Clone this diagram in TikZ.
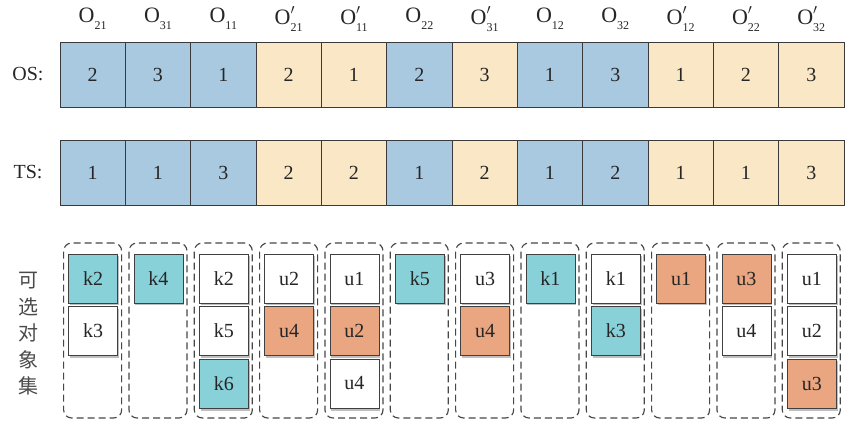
\documentclass[tikz,border=0pt]{standalone}
\usepackage{fontspec}
\setmainfont{Liberation Serif}
\newfontfamily\cjk{Noto Sans CJK SC}
\usetikzlibrary{shadows}
\definecolor{cellblue}{HTML}{A9C9E0}
\definecolor{cellyel}{HTML}{F9E7C5}
\definecolor{boxteal}{HTML}{88D1D9}
\definecolor{boxorg}{HTML}{E9A680}
\definecolor{boxwhite}{HTML}{FFFFFF}
\definecolor{edge}{HTML}{3A3A3A}
\definecolor{cjkgray}{HTML}{4A4A4A}
% operation labels: O with subscript, optionally primed
\newcommand{\osub}[1]{O\raisebox{-0.32em}{\fontsize{12}{12}\selectfont #1}}
\newcommand{\oprm}[1]{O\rlap{\raisebox{0.42em}{\fontsize{15}{15}\selectfont$\prime$}}\raisebox{-0.32em}{\fontsize{12}{12}\selectfont #1}}
\begin{document}
\begin{tikzpicture}[x=1pt,y=-1pt,
  cell/.style={draw=edge, line width=0.9pt, minimum width=65.33pt, minimum height=65pt,
    inner sep=0pt, font=\fontsize{20}{20}\selectfont, text=black!85},
  rowlab/.style={font=\fontsize{20}{20}\selectfont, text=black!85},
  oplab/.style={font=\fontsize{22}{22}\selectfont, text=black!85},
  grp/.style={draw=black!72, dash pattern=on 7pt off 4pt, line width=1.15pt,
    rounded corners=8pt, minimum width=58pt, minimum height=175pt, inner sep=0pt},
  cand/.style={draw=black!75, line width=0.9pt, minimum width=49pt, minimum height=49pt,
    inner sep=0pt, font=\fontsize{20}{20}\selectfont, text=black!85,
    drop shadow={shadow xshift=1.5pt, shadow yshift=-2.5pt, opacity=0.25, fill=black}},
]
\useasboundingbox (0,0) rectangle (847,422);

% operation sequence row and labels
\foreach \i/\c/\v/\lab in {1/cellblue/2/\osub{21}, 2/cellblue/3/\osub{31}, 3/cellblue/1/\osub{11},
    4/cellyel/2/\oprm{21}, 5/cellyel/1/\oprm{11}, 6/cellblue/2/\osub{22}, 7/cellyel/3/\oprm{31},
    8/cellblue/1/\osub{12}, 9/cellblue/3/\osub{32}, 10/cellyel/1/\oprm{12}, 11/cellyel/2/\oprm{22},
    12/cellyel/3/\oprm{32}}{
  \pgfmathsetmacro{\cx}{60+65.33*\i-32.67}
  \node[cell, fill=\c] (os\i) at (\cx,74.5) {\v};
  \node[oplab] (op\i) at (\cx,19) {\lab};
}

% transport sequence row
\foreach \i/\c/\v in {1/cellblue/1, 2/cellblue/1, 3/cellblue/3, 4/cellyel/2, 5/cellyel/2,
    6/cellblue/1, 7/cellyel/2, 8/cellblue/1, 9/cellblue/2, 10/cellyel/1, 11/cellyel/1, 12/cellyel/3}{
  \pgfmathsetmacro{\cx}{60+65.33*\i-32.67}
  \node[cell, fill=\c] (ts\i) at (\cx,172.5) {\v};
}

\node[rowlab] (oslab) at (28,74.5) {OS:};
\node[rowlab] (tslab) at (28,172.5) {TS:};
\node[font=\cjk\fontsize{20}{26.5}\selectfont, text=cjkgray, align=center, inner sep=0pt]
  (candlab) at (28,334) {可\\选\\对\\象\\集};

% candidate sets
\foreach \i in {1,...,12}{
  \pgfmathsetmacro{\cx}{60+65.33*\i-32.67}
  \node[grp] (g\i) at (\cx,330.5) {};
}
\foreach \i/\r/\c/\t in {
    1/1/boxteal/k2, 1/2/boxwhite/k3,
    2/1/boxteal/k4,
    3/1/boxwhite/k2, 3/2/boxwhite/k5, 3/3/boxteal/k6,
    4/1/boxwhite/u2, 4/2/boxorg/u4,
    5/1/boxwhite/u1, 5/2/boxorg/u2, 5/3/boxwhite/u4,
    6/1/boxteal/k5,
    7/1/boxwhite/u3, 7/2/boxorg/u4,
    8/1/boxteal/k1,
    9/1/boxwhite/k1, 9/2/boxteal/k3,
    10/1/boxorg/u1,
    11/1/boxorg/u3, 11/2/boxwhite/u4,
    12/1/boxwhite/u1, 12/2/boxwhite/u2, 12/3/boxorg/u3}{
  \pgfmathsetmacro{\cx}{60+65.33*\i-32.67+0.5}
  \pgfmathsetmacro{\cy}{278.5+52.5*(\r-1)}
  \node[cand, fill=\c] (b\i-\r) at (\cx,\cy) {\t};
}
\end{tikzpicture}
\end{document}
